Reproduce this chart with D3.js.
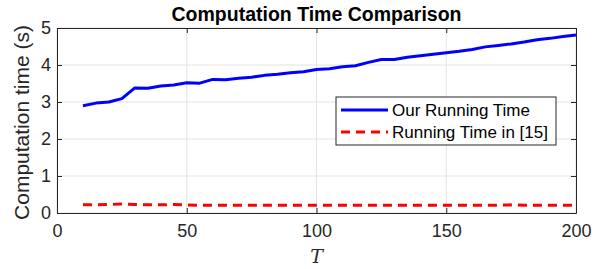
<!DOCTYPE html>
<html>
<head>
<meta charset="utf-8">
<script src="https://cdn.jsdelivr.net/npm/d3@7"></script>
<style>
  body { margin: 0; background: #fff; }
  svg { display: block; }
  text { font-family: "Liberation Sans", Arial, sans-serif; }
</style>
</head>
<body>
<svg id="chart" width="606" height="269"></svg>
<script>
var T = [10, 15, 20, 25, 30, 35, 40, 45, 50, 55, 60, 65, 70, 75, 80, 85, 90, 95, 100,
         105, 110, 115, 120, 125, 130, 135, 140, 145, 150, 155, 160, 165, 170, 175,
         180, 185, 190, 195, 200];
var ourTime = [2.90, 2.97, 3.00, 3.09, 3.38, 3.37, 3.43, 3.46, 3.52, 3.51, 3.61, 3.60,
               3.64, 3.67, 3.72, 3.75, 3.79, 3.82, 3.88, 3.90, 3.95, 3.98, 4.07, 4.15,
               4.15, 4.21, 4.25, 4.29, 4.33, 4.37, 4.42, 4.49, 4.53, 4.57, 4.62, 4.68,
               4.72, 4.77, 4.81];
var refTime = [0.22, 0.22, 0.23, 0.24, 0.23, 0.22, 0.22, 0.23, 0.22, 0.21, 0.21, 0.21,
               0.21, 0.21, 0.21, 0.21, 0.21, 0.21, 0.21, 0.21, 0.21, 0.21, 0.21, 0.21,
               0.21, 0.21, 0.21, 0.21, 0.21, 0.21, 0.21, 0.21, 0.21, 0.22, 0.21, 0.21,
               0.21, 0.21, 0.21];
var xTicks = [0, 50, 100, 150, 200];
var yTicks = [0, 1, 2, 3, 4, 5];
var seriesNames = ["Our Running Time", "Running Time in [15]"];

var svg = d3.select("#chart"),
    plot = { left: 57, right: 576, top: 28, bottom: 213 },
    axisColor = "#262626";

var x = d3.scaleLinear().domain([0, 200]).range([plot.left, plot.right]);
var y = d3.scaleLinear().domain([0, 5]).range([plot.bottom, plot.top]);

// grid
var grid = svg.append("g").attr("class", "grid");
grid.selectAll(".gx").data(xTicks).enter().append("line")
    .attr("x1", function (d) { return x(d); }).attr("x2", function (d) { return x(d); })
    .attr("y1", plot.top).attr("y2", plot.bottom)
    .style("stroke", "#e3e3e3").style("stroke-width", 1);
grid.selectAll(".gy").data(yTicks).enter().append("line")
    .attr("x1", plot.left).attr("x2", plot.right)
    .attr("y1", function (d) { return y(d); }).attr("y2", function (d) { return y(d); })
    .style("stroke", "#e3e3e3").style("stroke-width", 1);

// axes (ticks inside, MATLAB-style box)
function styleAxis(g) {
    g.select(".domain").style("stroke", axisColor);
    g.selectAll(".tick line").style("stroke", axisColor);
    g.selectAll(".tick text").style("fill", axisColor)
        .style("font-family", "'Liberation Sans', Arial, sans-serif")
        .style("font-size", "18px");
}
svg.append("g").attr("transform", "translate(0," + plot.bottom + ")")
    .call(d3.axisBottom(x).tickValues(xTicks).tickSizeInner(-5).tickSizeOuter(0).tickPadding(11))
    .call(styleAxis);
svg.append("g").attr("transform", "translate(" + plot.left + ",0)")
    .call(d3.axisLeft(y).tickValues(yTicks).tickFormat(d3.format("d"))
        .tickSizeInner(-5).tickSizeOuter(0).tickPadding(6))
    .call(styleAxis);
svg.append("g").attr("transform", "translate(0," + plot.top + ")")
    .call(d3.axisTop(x).tickValues(xTicks).tickSizeInner(-5).tickSizeOuter(0).tickFormat(""))
    .call(styleAxis);
svg.append("g").attr("transform", "translate(" + plot.right + ",0)")
    .call(d3.axisRight(y).tickValues(yTicks).tickSizeInner(-5).tickSizeOuter(0).tickFormat(""))
    .call(styleAxis);

// lines
var line = d3.line()
    .x(function (d) { return x(d[0]); })
    .y(function (d) { return y(d[1]); });

svg.append("path")
    .datum(d3.zip(T, refTime))
    .attr("d", line)
    .style("fill", "none").style("stroke", "#ff0000")
    .style("stroke-width", 3).style("stroke-dasharray", "9,6");
svg.append("path")
    .datum(d3.zip(T, ourTime))
    .attr("d", line)
    .style("fill", "none").style("stroke", "#0000ff")
    .style("stroke-width", 3).style("stroke-linejoin", "round");

// legend
var lg = svg.append("g").attr("transform", "translate(336,97)");
lg.append("rect").attr("width", 220).attr("height", 48)
    .style("fill", "#fff").style("stroke", axisColor).style("stroke-width", 1);
var rows = lg.selectAll(".row").data(seriesNames).enter().append("g")
    .attr("transform", function (d, i) { return "translate(0," + (13 + i * 22) + ")"; });
rows.append("line")
    .attr("x1", 5).attr("x2", 52).attr("y1", 0).attr("y2", 0)
    .style("stroke", function (d, i) { return i ? "#ff0000" : "#0000ff"; })
    .style("stroke-width", 3)
    .style("stroke-dasharray", function (d, i) { return i ? "9,6" : null; });
rows.append("text")
    .attr("x", 56).attr("y", 0).attr("dy", "0.35em")
    .style("font-size", "17px").style("fill", "#000")
    .text(function (d) { return d; });

// title and labels
svg.append("text")
    .attr("x", (plot.left + plot.right) / 2).attr("y", 21)
    .attr("text-anchor", "middle")
    .style("font-size", "19.5px").style("font-weight", "bold").style("fill", "#000")
    .text("Computation Time Comparison");
svg.append("text")
    .attr("transform", "translate(29," + ((plot.top + plot.bottom) / 2 + 2) + ") rotate(-90)")
    .attr("text-anchor", "middle")
    .style("font-size", "21px").style("fill", axisColor)
    .text("Computation time (s)");
svg.append("text")
    .attr("x", (plot.left + plot.right) / 2).attr("y", 263)
    .attr("text-anchor", "middle")
    .style("font-family", "'DejaVu Serif', 'Liberation Serif', serif")
    .style("font-style", "italic")
    .style("font-size", "19px").style("fill", axisColor)
    .text("T");
</script>
</body>
</html>
